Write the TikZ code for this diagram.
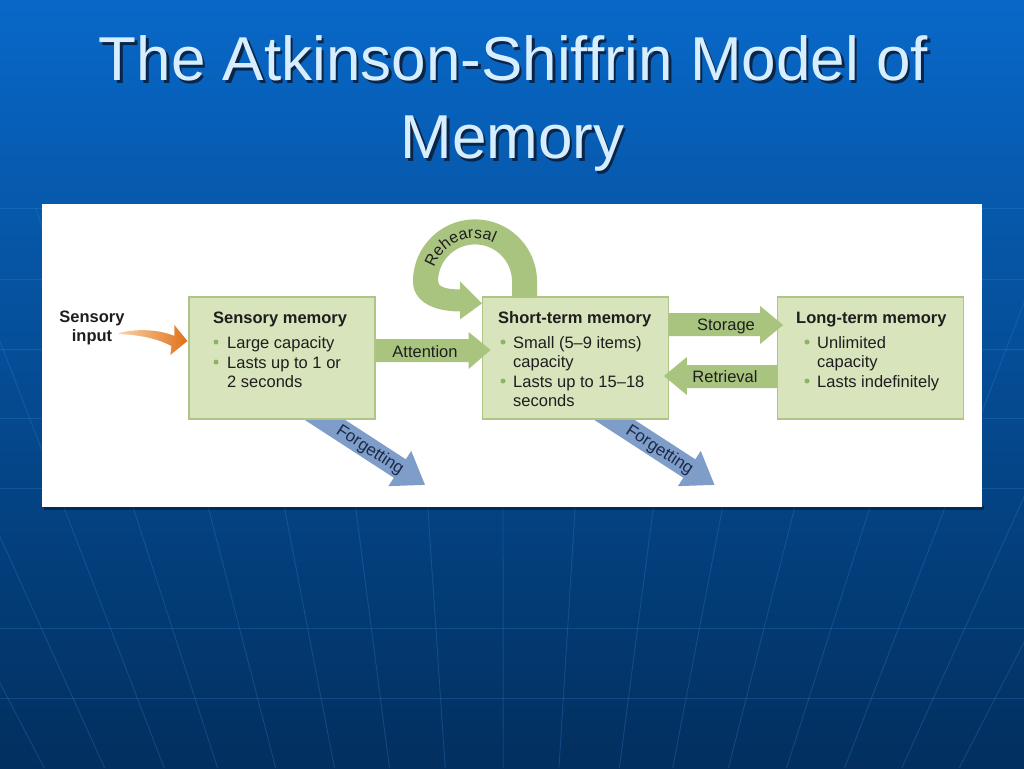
\documentclass[tikz,border=0pt]{standalone}
\usepackage{fontspec}
\setmainfont{Liberation Sans}
\usetikzlibrary{calc,decorations.text}
\pgfdeclarelayer{bg}
\pgfdeclarelayer{back}
\pgfsetlayers{bg,back,main}
\definecolor{bgtop}{HTML}{0868C8}
\definecolor{bgmid}{HTML}{044F9C}
\definecolor{bgbot}{HTML}{022F5E}
\definecolor{gridc}{HTML}{3C8CE0}
\definecolor{titlec}{HTML}{D6EEFF}
\definecolor{shadowc}{HTML}{0A2548}
\definecolor{boxfill}{HTML}{D7E4BC}
\definecolor{boxline}{HTML}{AFC586}
\definecolor{arrowgreen}{HTML}{A9C47F}
\definecolor{bulletc}{HTML}{8DB462}
\definecolor{forgetc}{HTML}{7E9DC8}
\definecolor{forgettxt}{HTML}{1C2A4A}
\definecolor{txt}{HTML}{1E1E1E}
\definecolor{orangeL}{HTML}{F9D2A8}
\definecolor{orangeD}{HTML}{E0701A}
\newcommand{\mylines}[1]{\begin{tabular}[t]{@{}l@{}}#1\end{tabular}}
\newcommand{\mylinesc}[1]{\begin{tabular}[t]{@{}c@{}}#1\end{tabular}}
\begin{document}
\begin{tikzpicture}[x=1pt,y=-1pt,
  box/.style={draw=boxline, fill=boxfill, line width=1.2pt, minimum width=186pt, minimum height=122pt, inner sep=0pt},
  bodytext/.style={font=\fontsize{16.5}{19.7}\selectfont, text=txt, inner sep=0pt, anchor=base west},
  boxtitle/.style={bodytext, font=\fontsize{16.5}{19.7}\selectfont\bfseries},
  arrowlabel/.style={font=\fontsize{16.5}{19.7}\selectfont, text=txt, inner sep=0pt, anchor=base},
  forgetlabel/.style={font=\fontsize{17}{20}\selectfont, text=forgettxt, inner sep=0pt},
  titlefont/.style={font=\fontsize{62}{70}\selectfont, inner sep=0pt, anchor=base},
  dot/.style={circle, fill=bulletc, inner sep=0pt, minimum size=5pt},
  gridline/.style={draw=gridc, opacity=0.26, line width=0.9pt},
  blockarrow/.style={fill=arrowgreen},
  forgetarrow/.style={fill=forgetc}]
\useasboundingbox (0,0) rectangle (1024,768);

% ---------- background ----------
\begin{pgfonlayer}{bg}
\shade[top color=bgtop, middle color=bgmid, bottom color=bgbot] (0,0) rectangle (1024,768);
\foreach \xi in {-90,-12,65,134,209,285,356,428,503,575,653,722,794,869,944,1018,1092}
  \draw[gridline] ({504+(\xi-504)*1.265},208) -- ({504+(\xi-504)*0.774},768);
\foreach \yy in {208,279,349,418,488,628,698}
  \draw[gridline] (0,\yy) -- (1024,\yy);
\fill[black,opacity=0.35] (44,506) rectangle (984,510);
\fill[white] (42,204) rectangle (982,507);
\end{pgfonlayer}

% ---------- title ----------
\node[titlefont, text=shadowc] (t1s) at (516,83) {The Atkinson-Shiffrin Model of};
\node[titlefont, text=titlec] (t1) at (513.5,80) {The Atkinson-Shiffrin Model of};
\node[titlefont, text=shadowc] (t2s) at (515,161) {Memory};
\node[titlefont, text=titlec] (t2) at (512.5,158) {Memory};

% ---------- boxes ----------
\node[box] (sm) at (282,358) {};
\node[box] (stm) at (575.5,358) {};
\node[box] (ltm) at (870.5,358) {};

% ---------- forgetting arrows (behind boxes) ----------
\begin{pgfonlayer}{back}
\begin{scope}[shift={($(sm.south)+(44,1)$)}, rotate=-33]
  \fill[forgetarrow] (-25,-11) -- (88,-11) -- (88,-21) -- (118,0) -- (88,21) -- (88,11) -- (-25,11) -- cycle;
\end{scope}
\begin{scope}[shift={($(stm.south)+(40,1)$)}, rotate=-33]
  \fill[forgetarrow] (-25,-11) -- (88,-11) -- (88,-21) -- (118,0) -- (88,21) -- (88,11) -- (-25,11) -- cycle;
\end{scope}
\end{pgfonlayer}
\begin{scope}[shift={($(sm.south)+(44,1)$)}, rotate=-33]
  \node[forgetlabel, rotate=-33] (f1l) at (53,1) {Forgetting};
\end{scope}
\begin{scope}[shift={($(stm.south)+(40,1)$)}, rotate=-33]
  \node[forgetlabel, rotate=-33] (f2l) at (53,1) {Forgetting};
\end{scope}

% ---------- rehearsal loop ----------
\begin{scope}[shift={($(stm.north)+(-100.5,-15)$)}]
  \fill[blockarrow] (62,16) -- (62,0) arc[start angle=0, end angle=-180, radius=62]
     .. controls (-62,18) and (-45,30) .. (-15,30) -- (-15,38) -- (7,22) -- (-15,0) -- (-15,8)
     .. controls (-30,8) and (-37,5) .. (-37,0) arc[start angle=180, end angle=360, radius=37]
     -- (37,16) -- cycle;
  \path[decorate, decoration={text along path, text align=center,
        text={|\fontsize{16}{16}\selectfont\color{txt}|Rehearsal}}]
     (-178:43) arc[start angle=-178, end angle=-48, radius=43];
\end{scope}

% ---------- horizontal block arrows ----------
\begin{scope}[shift={(sm.east)}]
  \fill[blockarrow] (0,-19) -- (93,-19) -- (93,-26) -- (115,-8) -- (93,11) -- (93,4) -- (0,4) -- cycle;
\end{scope}
\begin{scope}[shift={(stm.east)}]
  \fill[blockarrow] (0,-45) -- (91,-45) -- (91,-52) -- (114,-33) -- (91,-14) -- (91,-22) -- (0,-22) -- cycle;
\end{scope}
\begin{scope}[shift={(ltm.west)}]
  \fill[blockarrow] (0,7) -- (-90,7) -- (-90,-1) -- (-113,18) -- (-90,37) -- (-90,30) -- (0,30) -- cycle;
\end{scope}
\node[arrowlabel] (attl) at (425,357) {Attention};
\node[arrowlabel] (stol) at (726,330) {Storage};
\node[arrowlabel] (retl) at (725,382) {Retrieval};

% ---------- sensory input ----------
\node[arrowlabel, font=\fontsize{16.5}{19.7}\selectfont\bfseries] (sin) at (92,322) {\mylinesc{Sensory\\input}};
\begin{scope}[shift={(sm.west)}]
  \shade[left color=orangeL, right color=orangeD]
    (-69,-25) .. controls (-50,-30) and (-28,-28) .. (-14,-22) -- (-14,-33) -- (-1,-17) -- (-18,-3) -- (-17,-12)
    .. controls (-32,-20) and (-50,-23) .. (-69,-24) -- cycle;
\end{scope}

% ---------- box texts ----------
\node[boxtitle] (smt) at (213,323) {Sensory memory};
\node[dot] (smd1) at (216,342) {};
\node[bodytext] (sm1) at (227,348) {Large capacity};
\node[dot] (smd2) at (216,362) {};
\node[bodytext] (sm2) at (227,368) {\mylines{Lasts up to 1 or\\2 seconds}};

\node[boxtitle] (stmt) at (498,323) {Short-term memory};
\node[dot] (stmd1) at (503,342) {};
\node[bodytext] (stm1) at (513,348) {\mylines{Small (5--9 items)\\capacity}};
\node[dot] (stmd2) at (503,381) {};
\node[bodytext] (stm2) at (513,387) {\mylines{Lasts up to 15--18\\seconds}};

\node[boxtitle] (ltmt) at (796,323) {Long-term memory};
\node[dot] (ltmd1) at (807,342) {};
\node[bodytext] (ltm1) at (817,348) {\mylines{Unlimited\\capacity}};
\node[dot] (ltmd2) at (807,381) {};
\node[bodytext] (ltm2) at (817,387) {Lasts indefinitely};
\end{tikzpicture}
\end{document}
